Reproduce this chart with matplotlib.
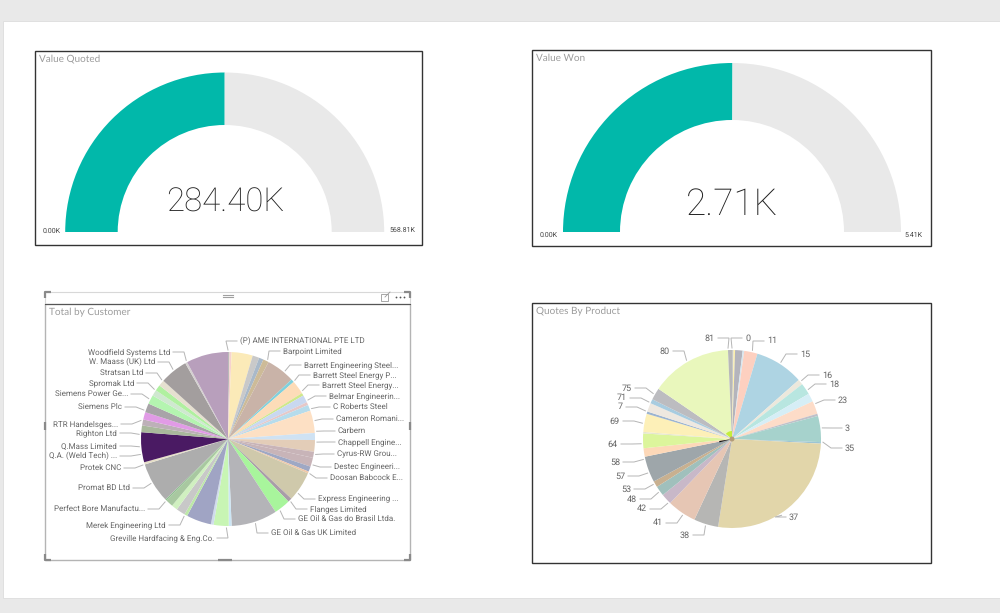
import numpy as np
import matplotlib
matplotlib.use("Agg")
import matplotlib.pyplot as plt
from matplotlib.patches import Rectangle

W, H = 1000, 613
plt.rcParams['font.family'] = ['Roboto', 'DejaVu Sans']
plt.rcParams['text.hinting'] = 'none'
plt.rcParams['text.hinting_factor'] = 1
LABEL_FONT = ['Roboto', 'DejaVu Sans']

# ---- data ----
gauge_titles = ["Value Quoted", "Value Won"]
gauge_values = [284.40, 2.71]
gauge_maxima = [568.81, 5.41]
gauge_texts = ["284.40K", "2.71K"]
gauge_min_labels = ["0.00K", "0.00K"]
gauge_max_labels = ["568.81K", "5.41K"]

customer_names = ["(P) AME INTERNATIONAL PTE LTD", "", "", "", "", "Barpoint Limited",
    "Barrett Engineering Steel...", "Barrett Steel Energy P...", "", "Barrett Steel Energy...", "Belmar Engineerin...",
    "", "C Roberts Steel", "Cameron Romani...", "Carbern", "Chappell Engine...", "Cyrus-RW Grou...",
    "Destec Engineeri...", "Doosan Babcock E...", "", "Express Engineering ...", "Flanges Limited",
    "GE Oil & Gas do Brasil Ltda.", "GE Oil & Gas UK Limited", "Greville Hardfacing & Eng.Co.", "", "", "",
    "Merek Engineering Ltd", "", "", "", "Perfect Bore Manufactu...", "Promat BD Ltd", "Protek CNC",
    "Q.A. (Weld Tech) ...", "Q.Mass Limited", "Righton Ltd", "RTR Handelsges...", "Siemens Plc", "", "Siemens Power Ge...",
    "Spromak Ltd", "Stratsan Ltd", "W. Maass (UK) Ltd", "Woodfield Systems Ltd", ""]
customer_values = [1.0, 1.4, 14.1, 4.5, 3.0, 3.8, 19.1, 2.1, 9.2, 1.8, 5.0, 2.0, 4.0, 15.0, 4.7, 7.8, 4.0,
    6.0, 3.5, 1.3, 20.0, 2.7, 10.9, 30.7, 1.9, 10.1, 1.8, 16.6, 2.0, 6.0, 4.0, 5.0, 1.0, 27.0, 1.5, 20.0, 4.5, 4.0,
    5.0, 6.0, 6.0, 4.0, 4.0, 4.0, 18.6, 1.4, 28.0]
customer_colors = ["#b9b9b9", "#f6d2cf", "#fbeab8", "#c9c9c9", "#a9b9c9", "#cdbb98", "#c9b3a8", "#7fd0dc",
    "#fddcb8", "#cfe88a", "#c9d8f0", "#e6c8c8", "#b6dcec", "#fde0c4", "#cfe2f3", "#e3cdb8", "#c8b4b8",
    "#c8b4b8", "#9fa8c4", "#f0c8a8", "#cfc9ab", "#a99ca8", "#a8f59c", "#b4b4b8", "#cce6f5", "#c8f5b4", "#d0dcec",
    "#a0a4c4", "#bde8a8", "#c8c8c8", "#d0f0c0", "#a8c8a0", "#8fbf8f", "#adadad", "#e6dfc8", "#4a1a63", "#a9b89c",
    "#bdb0b8", "#e19be6", "#a8a4a8", "#b4f5b0", "#cfe8d0", "#b0f0a0", "#e6e0d0", "#a39e9e", "#d4d0d0", "#b89fbc"]
customer_label_x = [240, 283, 304, 313, 322, 329, 333, 336, 338, 338, 337, 334, 330, 318, 310, 298, 271,
                    214, 166, 145, 130, 121, 117, 117, 117, 118, 122, 128, 134, 143, 155, 170]
customer_label_y = [341, 351, 365, 375, 385, 396, 407, 419, 431, 442, 454, 467, 478, 499, 509, 519, 533,
                    538, 525, 509, 488, 468, 456, 446, 433, 424, 407, 394, 383, 373, 362, 352]
customer_leader_angles = [0, 26.5, 40, 48.7, 57, 64, 70, 78, 85, 92, 100, 107, 113, 127.8, 135, 144, 162,
                          181, 209.6, 225, 240, 253, 260, 265, 273, 282, 289, 297, 304, 311.8, 321.7, 332]

product_names = ["0", "", "", "", "11", "15", "16", "18", "", "23", "", "3", "35", "37", "38", "41", "42", "48",
                 "53", "57", "58", "64", "", "69", "7", "71", "", "75", "80", "81"]
product_values = [1.0, 1.0, 4.9, 1.0, 8.7, 31.9, 3.5, 7.5, 5.5, 8.5, 1.5, 17.0, 1.0, 96.0, 16.0, 19.0, 7.0, 6.5,
                  4.0, 17.0, 5.5, 9.6, 1.0, 11.9, 1.5, 5.7, 2.8, 7.8, 53.1, 2.6]
product_colors = ["#c9c9c9", "#fdf0a8", "#b4b4bc", "#d6e6ef", "#fdd0c0", "#aed4e3", "#ece8dc", "#b8e6e0",
                  "#d6eef6", "#fddcc8", "#c0c0c8", "#a6d2cc", "#9cc4d4", "#e2d6aa", "#b6b6b4", "#e6c6b4", "#c8b8c8",
                  "#a0c0bc", "#c8b090", "#9ea6aa", "#fdd8b8", "#dcf59c", "#e6e6d0", "#fdf0b8", "#9cb4d0", "#eee8e0",
                  "#a8cce0", "#bcbcc0", "#e9f7bc", "#b8b8b8"]
product_label_x = [745, 767, 800, 822, 829, 838, 845, 845, 789, 690, 663, 647, 637, 631, 625, 620, 618, 620, 623, 627, 632, 670, 715]
product_label_y = [338, 341, 354, 375, 384, 400, 428, 448, 517, 535, 523, 509, 499, 489, 476, 462, 444, 421, 407, 398, 388, 351, 338]
product_leader_angles = [0, 13, 32.5, 50, 57, 67, 83, 92, 147, 197, 213, 225, 234, 240, 248, 257, 267, 280, 288, 294, 300, 330, 357.5]

core_lime_values = [50, 310]
core_spike_values = [6, 354]

# ---- layout ----
TEXT = "#666666"
TITLE = "#9c9c9c"
fig = plt.figure(figsize=(W / 100, H / 100), dpi=100, facecolor="#e9e9e9")

bg = fig.add_axes([0, 0, 1, 1], zorder=0)
bg.set_xlim(0, W); bg.set_ylim(H, 0); bg.axis("off")
fg = fig.add_axes([0, 0, 1, 1], zorder=3)
fg.set_xlim(0, W); fg.set_ylim(H, 0); fg.axis("off"); fg.patch.set_alpha(0)

bg.add_patch(Rectangle((3, 21), 997, 577, fc="white", ec="#dddddd", lw=0.6))
for (x0, y0, x1, y1) in [(35, 51, 422, 245), (532, 50, 931, 246), (532, 303, 931, 563)]:
    bg.add_patch(Rectangle((x0, y0), x1 - x0, y1 - y0, fc="white", ec="#333333", lw=1.0))


def circle_axes(cx, cy, r, z=1):
    a = fig.add_axes([(cx - r) / W, 1 - (cy + r) / H, 2 * r / W, 2 * r / H], zorder=z)
    a.set_xlim(-1, 1); a.set_ylim(-1, 1); a.axis("off"); a.patch.set_alpha(0)
    return a


# gauges
gauge_geo = [(224.7, 232, 159.5, 107), (732, 232, 169, 112)]
title_pos = [(39, 59), (536, 58)]
number_pos = [(225, 203), (732, 205)]
number_size = [24.0, 26.8]
min_pos = [(43, 231), (540, 235)]
max_pos = [(415, 230), (923, 235)]
for i, (cx, cy, r, ri) in enumerate(gauge_geo):
    a = circle_axes(cx, cy, r)
    v, m = gauge_values[i], gauge_maxima[i]
    a.pie([v, m - v, m], startangle=180, counterclock=False, radius=1,
          colors=["#01b8aa", "#e9e9e9", "none"],
          wedgeprops=dict(width=1 - ri / r, lw=0))
    a.set_xlim(-1, 1); a.set_ylim(-1, 1)
    fg.text(*title_pos[i], gauge_titles[i], family="Lato", fontsize=7.0, color=TITLE, va="center", ha="left")
    fg.text(*number_pos[i], gauge_texts[i], fontsize=number_size[i], fontweight="light", color="#222222", va="center", ha="center")
    fg.text(*min_pos[i], gauge_min_labels[i], family=LABEL_FONT, fontsize=5.1, color="#444444", va="center", ha="left")
    fg.text(*max_pos[i], gauge_max_labels[i], family=LABEL_FONT, fontsize=5.1, color="#444444", va="center", ha="right")


def labelled_pie(cx, cy, r, values, colors, names, lx, ly, angles, size):
    a = circle_axes(cx, cy, r)
    a.pie(values, colors=colors, startangle=90, counterclock=False, radius=1, wedgeprops=dict(lw=0))
    a.set_xlim(-1, 1); a.set_ylim(-1, 1)
    shown = [n for n in names if n]
    for name, x, y, ang in zip(shown, lx, ly, angles):
        sx = cx + (r + 2) * np.sin(np.radians(ang))
        sy = cy - (r + 2) * np.cos(np.radians(ang))
        right = ang < 180
        tipx = x - 3 if right else x + 3
        elbx = tipx - 11 if right else tipx + 11
        fg.plot([sx, elbx, tipx], [sy, y, y], color="#b5b5b5", lw=0.7, solid_joinstyle="miter")
        fg.text(x, y, name, family=LABEL_FONT, fontsize=size, color=TEXT, va="center", ha="left" if right else "right")
    return a


# customer pie
labelled_pie(228, 439, 87, customer_values, customer_colors, customer_names,
             customer_label_x, customer_label_y, customer_leader_angles, 6.0)
fg.text(49, 312, "Total by Customer", family="Lato", fontsize=7.0, color=TITLE, va="center", ha="left")

# product pie
labelled_pie(732, 439, 89, product_values, product_colors, product_names,
             product_label_x, product_label_y, product_leader_angles, 6.8)
lime = circle_axes(732, 439, 8, z=2)
lime.pie(core_lime_values, colors=["#c4ee3c", "none"], startangle=90 - 310, counterclock=False, radius=1, wedgeprops=dict(lw=0))
lime.set_xlim(-1, 1); lime.set_ylim(-1, 1)
spike = circle_axes(732, 439, 13, z=2)
spike.pie(core_spike_values, colors=["#111111", "none"], startangle=90 - 255, counterclock=False, radius=1, wedgeprops=dict(lw=0))
spike.set_xlim(-1, 1); spike.set_ylim(-1, 1)
dot = circle_axes(732, 439, 2.5, z=2)
dot.pie([1], colors=["#b39c78"], radius=1)
dot.set_xlim(-1, 1); dot.set_ylim(-1, 1)
fg.text(536, 311, "Quotes By Product", family="Lato", fontsize=7.0, color=TITLE, va="center", ha="left")

# focus frame of the customer visual
fg.add_patch(Rectangle((45, 304), 365, 256, fc="none", ec="#b4b4b4", lw=1.0))
fg.plot([45, 410], [292, 292], color="#d8d8d8", lw=0.8)
fg.plot([45, 45], [292, 304], color="#d8d8d8", lw=0.8)
fg.plot([410, 410], [292, 304], color="#d8d8d8", lw=0.8)
fg.plot([45, 410], [304, 304], color="#555555", lw=0.8)
grey = "#8a8a8a"
for x, y, dx, dy in [(45, 292, 6, 6), (410, 292, -6, 6), (45, 560, 6, -6), (410, 560, -6, -6)]:
    fg.plot([x + dx, x, x], [y, y, y + dy], color=grey, lw=1.6, solid_capstyle="butt")
for y in (294.5, 296.5):
    fg.plot([223, 233], [y, y], color="#a0a0a0", lw=0.8)
for x, y, dx, dy in [(225, 560, 7, 0), (45, 426, 0, 4), (410, 426, 0, 4)]:
    fg.plot([x - dx, x + dx], [y - dy, y + dy], color=grey, lw=1.6, solid_capstyle="butt")
fg.add_patch(Rectangle((381, 294), 7, 7, fc="none", ec="#999999", lw=0.6))
fg.plot([385, 390], [297, 292], color="#999999", lw=0.6)
fg.plot([396, 400, 404], [296.5, 296.5, 296.5], ls="none", marker="o", ms=1.3, mew=0, color="#555555")

fig.savefig("out.png", dpi=100, facecolor=fig.get_facecolor())
